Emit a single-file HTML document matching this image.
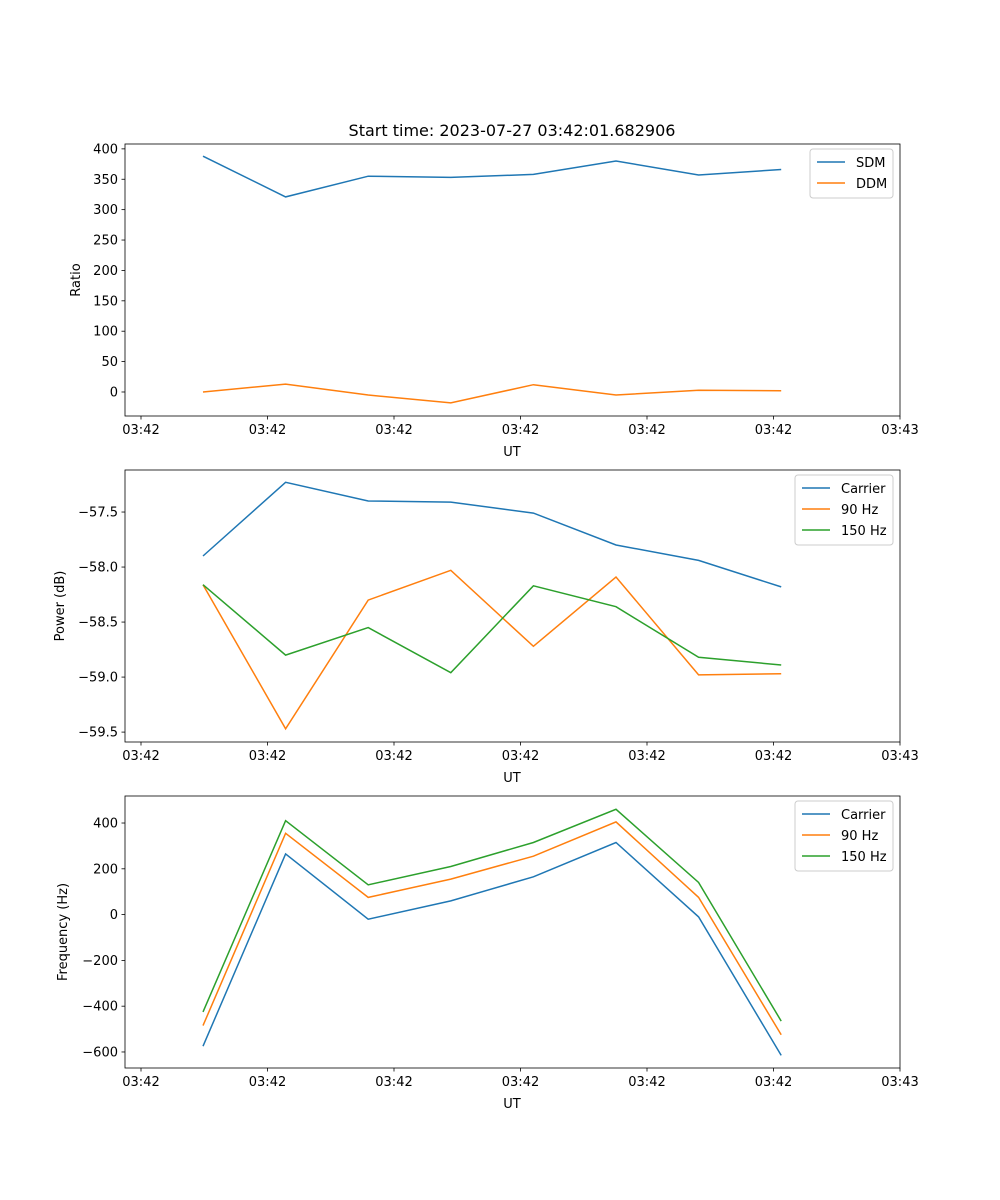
<!DOCTYPE html>
<html><head><meta charset="utf-8"><style>
body{margin:0;background:#fff}
svg{display:block;font-family:"DejaVu Sans","Liberation Sans",sans-serif}
</style></head><body>
<svg id="fig" width="1000" height="1200" xmlns="http://www.w3.org/2000/svg">
<rect width="1000" height="1200" fill="#fff"/>
<text x="512" y="136" font-size="16" text-anchor="middle">Start time: 2023-07-27 03:42:01.682906</text>
</svg>
<script>
// time in seconds from first tick
const pointTimes = [4.9, 11.43, 17.96, 24.49, 31.02, 37.55, 44.08, 50.61];
const xTickTimes = [0, 10, 20, 30, 40, 50, 60];
const xTickLabels = ["03:42","03:42","03:42","03:42","03:42","03:42","03:43"];
const sdm = [388, 321, 355, 353, 358, 380, 357, 366];
const ddm = [0, 13, -5, -18, 12, -5, 3, 2];
const powCarrier = [-57.90, -57.23, -57.40, -57.41, -57.51, -57.80, -57.94, -58.18];
const pow90 = [-58.16, -59.47, -58.30, -58.03, -58.72, -58.09, -58.98, -58.97];
const pow150 = [-58.16, -58.80, -58.55, -58.96, -58.17, -58.36, -58.82, -58.89];
const freqCarrier = [-575, 265, -20, 60, 165, 315, -10, -615];
const freq90 = [-485, 355, 75, 155, 255, 405, 75, -525];
const freq150 = [-425, 410, 130, 210, 315, 460, 140, -465];
const ticks1 = [0,50,100,150,200,250,300,350,400];
const ticks2 = [-59.5,-59.0,-58.5,-58.0,-57.5];
const ticks3 = [-600,-400,-200,0,200,400];

const NS="http://www.w3.org/2000/svg";
const svg=document.getElementById('fig');
const C=['#1f77b4','#ff7f0e','#2ca02c'];
function mk(t,a,p){const e=document.createElementNS(NS,t);for(const k in a)e.setAttribute(k,a[k]);(p||svg).appendChild(e);return e;}
const X0=125,X1=900;
function xs(t){return 141+(t/10)*126.5;}
function fmt(v,d){const s=v.toFixed(d);return v<0?'\u2212'+s.slice(1):s;}

function panel(name,top,bot,ymin,ymax,yticks,dec,ylabel,series,names,legW){
  const g=mk('g',{});
  
  
  const ys=v=>bot-(v-ymin)/(ymax-ymin)*(bot-top);
  series.forEach((s,i)=>{
    const pts=s.map((v,j)=>xs(pointTimes[j]).toFixed(1)+','+ys(v).toFixed(1)).join(' ');
    const l=mk('polyline',{points:pts,fill:'none',stroke:C[i],'stroke-width':1.5},g);
    
    
  });
  const fr=mk('rect',{x:X0,y:top,width:X1-X0,height:bot-top,fill:'none',stroke:'#000','stroke-width':0.8},g);
  
  
  yticks.forEach(v=>{
    const y=ys(v);
    mk('line',{x1:X0-3.5,x2:X0,y1:y,y2:y,stroke:'#000','stroke-width':0.8},g);
    const t=mk('text',{x:X0-7,y:y+4.5,'font-size':13,'text-anchor':'end'},g);
    t.textContent=fmt(v,dec);
    
    
  });
  xTickTimes.forEach((tv,i)=>{
    const x=xs(tv);
    mk('line',{x1:x,x2:x,y1:bot,y2:bot+3.5,stroke:'#000','stroke-width':0.8},g);
    const t=mk('text',{x:x,y:bot+18,'font-size':13,'text-anchor':'middle'},g);
    t.textContent=xTickLabels[i];
    
    
  });
  const xl=mk('text',{x:512,y:bot+40,'font-size':13,'text-anchor':'middle'},g);
  xl.textContent='UT';
  
  
  const cy=(top+bot)/2;
  const yl=mk('text',{x:0,y:0,'font-size':13,'text-anchor':'middle',transform:`translate(${ylabel[1]},${cy}) rotate(-90)`},g);
  yl.textContent=ylabel[0];
  
  
  const lx=X1-7-legW,ly=top+5,h=names.length*21+7;
  const lg=mk('g',{},g);
  
  
  mk('rect',{x:lx,y:ly,width:legW,height:h,rx:3,fill:'#fff',stroke:'#ccc','stroke-width':1},lg);
  names.forEach((n,i)=>{
    const yy=ly+13+i*21;
    mk('line',{x1:lx+7,x2:lx+35,y1:yy,y2:yy,stroke:C[i],'stroke-width':1.5},lg);
    const t=mk('text',{x:lx+46,y:yy+5,'font-size':13},lg);
    t.textContent=n;
    
    
  });
}
panel('ratio-panel',144,416,-39.5,408,ticks1,0,['Ratio',80],[sdm,ddm],['SDM','DDM'],83);
panel('power-panel',470,742,-59.59,-57.118,ticks2,1,['Power (dB)',64],[powCarrier,pow90,pow150],['Carrier','90 Hz','150 Hz'],98);
panel('frequency-panel',796,1068,-670,518,ticks3,0,['Frequency (Hz)',67],[freqCarrier,freq90,freq150],['Carrier','90 Hz','150 Hz'],98);
</script>
</body></html>
